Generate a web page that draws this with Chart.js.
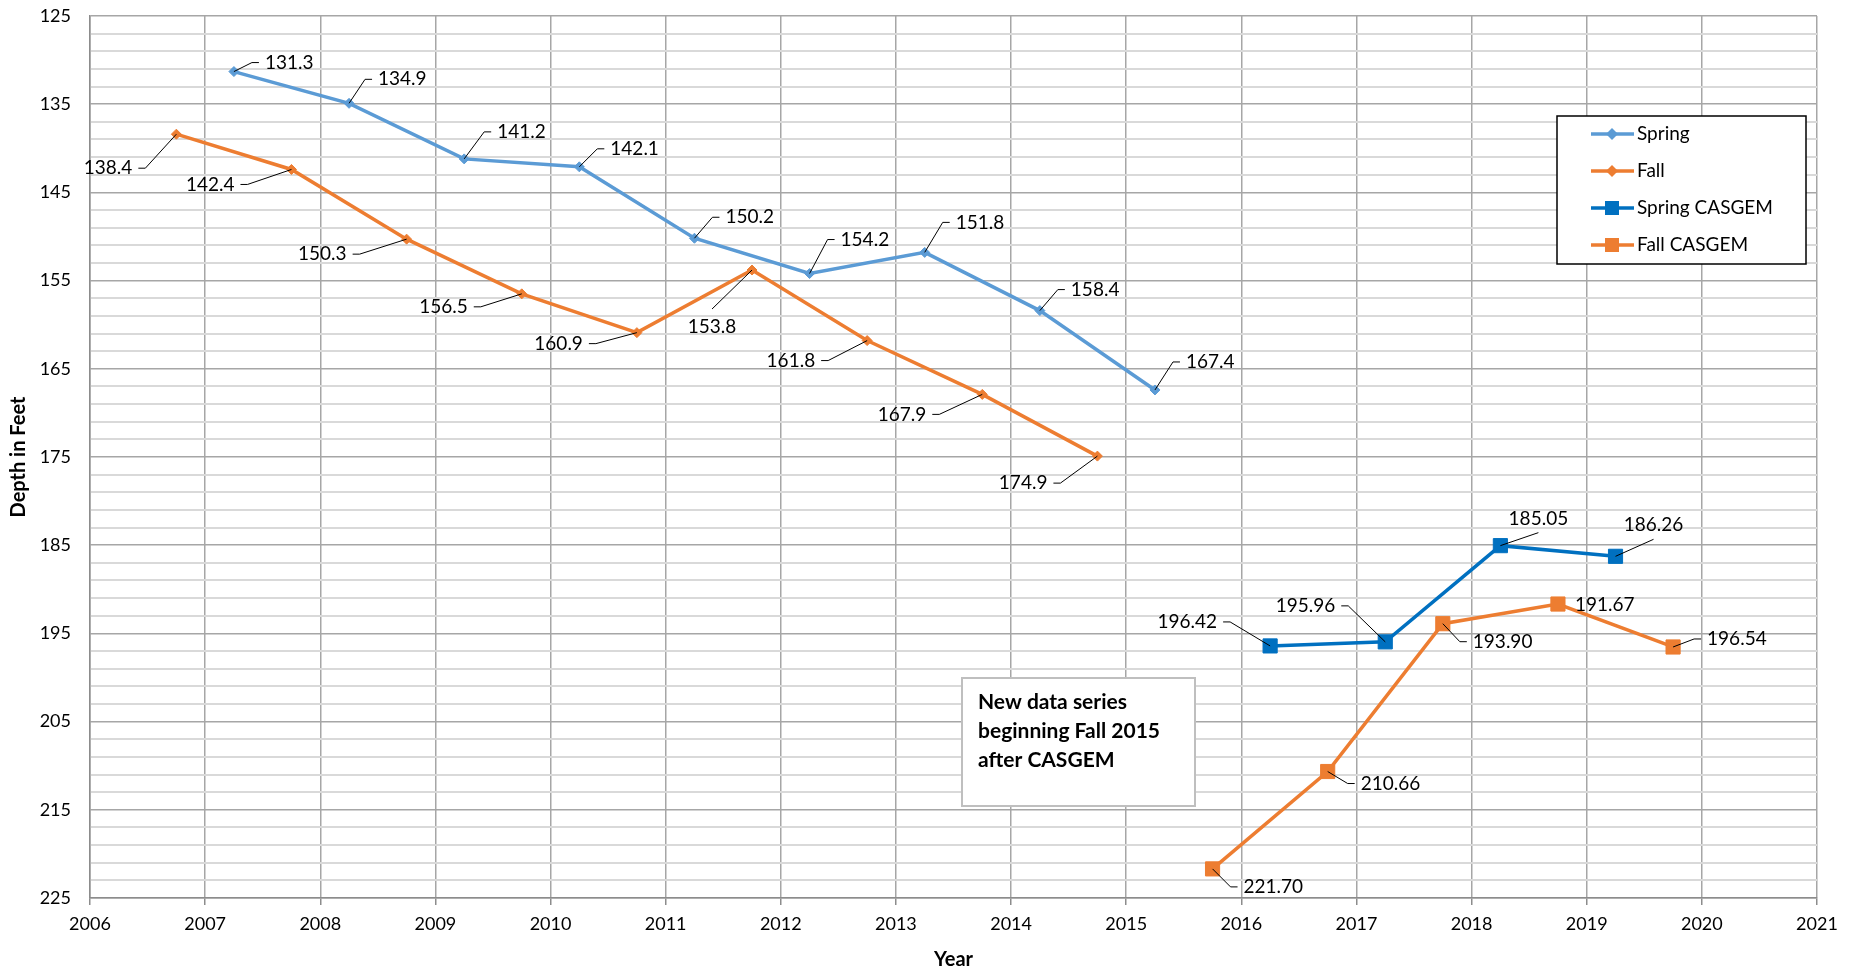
<!DOCTYPE html>
<html>
<head>
<meta charset="utf-8">
<script src="https://cdn.jsdelivr.net/npm/chart.js@4.4.1/dist/chart.umd.min.js"></script>
<style>
html, body { margin: 0; padding: 0; background: #fff; }
#wrap { width: 1856px; height: 968px; position: relative; }
</style>
</head>
<body>
<div id="wrap"><canvas id="myChart"></canvas></div>
<script>
/* --------------------------------------------------------------- */
/* data */

var seriesNames = ['Spring', 'Fall', 'Spring CASGEM', 'Fall CASGEM'];

var springX = [2007.25, 2008.25, 2009.25, 2010.25, 2011.25, 2012.25, 2013.25, 2014.25, 2015.25];
var springDepth = [131.3, 134.9, 141.2, 142.1, 150.2, 154.2, 151.8, 158.4, 167.4];

var fallX = [2006.75, 2007.75, 2008.75, 2009.75, 2010.75, 2011.75, 2012.75, 2013.75, 2014.75];
var fallDepth = [138.4, 142.4, 150.3, 156.5, 160.9, 153.8, 161.8, 167.9, 174.9];

var springCasgemX = [2016.25, 2017.25, 2018.25, 2019.25];
var springCasgemDepth = [196.42, 195.96, 185.05, 186.26];

var fallCasgemX = [2015.75, 2016.75, 2017.75, 2018.75, 2019.75];
var fallCasgemDepth = [221.70, 210.66, 193.90, 191.67, 196.54];

var yearTicks = [2006, 2007, 2008, 2009, 2010, 2011, 2012, 2013, 2014, 2015, 2016, 2017, 2018, 2019, 2020, 2021];
var depthTicks = [125, 135, 145, 155, 165, 175, 185, 195, 205, 215, 225];

var noteLines = ['New data series', 'beginning Fall 2015', 'after CASGEM'];

// 라벨 위치 (점 기준 px): [방향, dx, dy]  r=오른쪽, l=왼쪽, a=위, b=아래
var labelPlace = [
    [['r',31,-9],['r',29,-24],['r',33,-27],['r',31,-18],['r',31,-21],['r',31,-34],['r',31,-30],['r',31,-21],['r',31,-28]],
    [['l',-44,34],['l',-57,15],['l',-60,15],['l',-54,13],['l',-54,11],['b',-40,57],['l',-52,20],['l',-56,20],['l',-50,27]],
    [['l',-53,-24],['l',-50,-36],['a',38,-27],['a',38,-31]],
    [['r',31,18],['r',33,12],['r',30,18],['r',17,1],['r',34,-8]]
];
var labelDigits = [1, 1, 2, 2];

var FONT = 'Lato';

function pts(xs, ys) {
    return xs.map(function (x, i) { return { x: x, y: ys[i] }; });
}

// 데이터 라벨 + 지시선
var labelPlugin = {
    id: 'leaderLabels',
    afterDatasetsDraw: function (chart) {
        var ctx = chart.ctx;
        ctx.save();
        ctx.font = '19px ' + FONT;
        ctx.fillStyle = '#000';
        ctx.strokeStyle = '#000';
        ctx.lineWidth = 1;
        ctx.textBaseline = 'middle';
        chart.data.datasets.forEach(function (ds, di) {
            var meta = chart.getDatasetMeta(di);
            meta.data.forEach(function (el, i) {
                var p = labelPlace[di][i];
                var txt = ds.data[i].y.toFixed(labelDigits[di]);
                var tx = el.x + p[1], ty = el.y + p[2];
                ctx.beginPath();
                if (p[0] === 'r') {
                    ctx.textAlign = 'left';
                    if (p[1] > 20) {
                        ctx.moveTo(el.x, el.y);
                        ctx.lineTo(tx - 13, ty);
                        ctx.lineTo(tx - 6, ty);
                    }
                } else if (p[0] === 'l') {
                    ctx.textAlign = 'right';
                    ctx.moveTo(el.x, el.y);
                    ctx.lineTo(tx + 13, ty);
                    ctx.lineTo(tx + 6, ty);
                } else if (p[0] === 'a') {
                    ctx.textAlign = 'center';
                    ctx.moveTo(el.x, el.y);
                    ctx.lineTo(tx, ty + 14);
                } else {
                    ctx.textAlign = 'center';
                    ctx.moveTo(el.x, el.y);
                    ctx.lineTo(tx, ty - 18);
                }
                ctx.stroke();
                ctx.fillText(txt, tx, ty);
            });
        });
        ctx.restore();
    }
};

// 범례 박스 + 설명 박스
var boxPlugin = {
    id: 'boxes',
    afterDraw: function (chart) {
        var ctx = chart.ctx;
        ctx.save();

        // legend
        var lx = 1557, ly = 116, lw = 249, lh = 148;
        ctx.fillStyle = '#fff';
        ctx.fillRect(lx, ly, lw, lh);
        ctx.strokeStyle = '#000';
        ctx.lineWidth = 1.5;
        ctx.strokeRect(lx, ly, lw, lh);
        ctx.font = '19px ' + FONT;
        ctx.textBaseline = 'middle';
        ctx.textAlign = 'left';
        chart.data.datasets.forEach(function (ds, di) {
            var y = 134 + di * 37;
            ctx.strokeStyle = ds.borderColor;
            ctx.lineWidth = 3.5;
            ctx.beginPath();
            ctx.moveTo(1591, y);
            ctx.lineTo(1634, y);
            ctx.stroke();
            ctx.fillStyle = ds.pointBackgroundColor;
            ctx.beginPath();
            if (ds.pointStyle === 'rect') {
                ctx.rect(1605, y - 7, 14, 14);
            } else {
                ctx.moveTo(1612, y - 6);
                ctx.lineTo(1618, y);
                ctx.lineTo(1612, y + 6);
                ctx.lineTo(1606, y);
                ctx.closePath();
            }
            ctx.fill();
            ctx.fillStyle = '#000';
            ctx.fillText(ds.label, 1637, y);
        });

        // note
        var nx = 962, ny = 678, nw = 233, nh = 128;
        ctx.fillStyle = '#fff';
        ctx.fillRect(nx, ny, nw, nh);
        ctx.strokeStyle = '#bfbfbf';
        ctx.lineWidth = 2;
        ctx.strokeRect(nx, ny, nw, nh);
        ctx.fillStyle = '#000';
        ctx.font = 'bold 21px ' + FONT;
        noteLines.forEach(function (t, i) {
            ctx.fillText(t, 978, 702 + i * 29);
        });
        ctx.restore();
    }
};

var depthGrid = [];
for (var v = 125; v <= 225; v += 2) depthGrid.push(v);

var ctx = document.getElementById('myChart').getContext('2d');
var myChart = new Chart(ctx, {
    type: 'line',
    data: {
        datasets: [{
            label: seriesNames[0],
            data: pts(springX, springDepth),
            borderColor: '#5B9BD5',
            pointBackgroundColor: '#5B9BD5',
            pointBorderColor: '#5B9BD5',
            pointStyle: 'rectRot',
            pointRadius: 5
        }, {
            label: seriesNames[1],
            data: pts(fallX, fallDepth),
            borderColor: '#ED7D31',
            pointBackgroundColor: '#ED7D31',
            pointBorderColor: '#ED7D31',
            pointStyle: 'rectRot',
            pointRadius: 5
        }, {
            label: seriesNames[2],
            data: pts(springCasgemX, springCasgemDepth),
            borderColor: '#0070C0',
            pointBackgroundColor: '#0070C0',
            pointBorderColor: '#0070C0',
            pointStyle: 'rect',
            pointRadius: 10
        }, {
            label: seriesNames[3],
            data: pts(fallCasgemX, fallCasgemDepth),
            borderColor: '#ED7D31',
            pointBackgroundColor: '#ED7D31',
            pointBorderColor: '#ED7D31',
            pointStyle: 'rect',
            pointRadius: 10
        }]
    },
    options: {
        responsive: true,
        maintainAspectRatio: false,
        animation: false,
        elements: {
            line: { borderWidth: 3.5, tension: 0 },
            point: { borderWidth: 1, hoverRadius: 6 }
        },
        layout: {
            padding: { top: 16, right: 39, bottom: 0, left: 0 }
        },
        scales: {
            x: {
                type: 'linear',
                min: 2006,
                max: 2021,
                afterBuildTicks: function (s) {
                    s.ticks = yearTicks.map(function (y) { return { value: y }; });
                },
                afterFit: function (s) { s.height = 70; },
                grid: {
                    color: '#a6a6a6',
                    lineWidth: 1.5,
                    tickLength: 7,
                    tickColor: '#8c8c8c'
                },
                border: { color: '#8c8c8c', width: 1.5 },
                ticks: {
                    padding: 8,
                    color: '#000',
                    font: { family: FONT, size: 18 },
                    maxRotation: 0,
                    callback: function (v) { return String(v); }
                },
                title: {
                    display: true,
                    text: 'Year',
                    color: '#000',
                    font: { family: FONT, size: 20, weight: 'bold' },
                    padding: { top: 0, bottom: -4 }
                }
            },
            y: {
                reverse: true,
                min: 125,
                max: 225,
                afterBuildTicks: function (s) {
                    s.ticks = depthGrid.map(function (d) { return { value: d }; });
                },
                afterFit: function (s) {
                    s.width = 90;
                    s.paddingTop = 10;
                    s.paddingBottom = 10;
                },
                grid: {
                    drawTicks: false,
                    color: function (c) {
                        return depthTicks.indexOf(c.tick.value) >= 0 ? '#a6a6a6' : '#d9d9d9';
                    },
                    lineWidth: function (c) {
                        return depthTicks.indexOf(c.tick.value) >= 0 ? 1.5 : 2;
                    }
                },
                border: { color: '#8c8c8c', width: 1.5 },
                ticks: {
                    padding: 19,
                    color: '#000',
                    autoSkip: false,
                    font: { family: FONT, size: 18 },
                    callback: function (v) {
                        return depthTicks.indexOf(v) >= 0 ? String(v) : '';
                    }
                },
                title: {
                    display: true,
                    text: 'Depth in Feet',
                    color: '#000',
                    font: { family: FONT, size: 20, weight: 'bold' },
                    padding: { top: 7, bottom: 0 }
                }
            }
        },
        plugins: {
            legend: { display: false },
            tooltip: { enabled: false }
        }
    },
    plugins: [labelPlugin, boxPlugin]
});
/* --------------------------------------------------------------- */
</script>
</body>
</html>
